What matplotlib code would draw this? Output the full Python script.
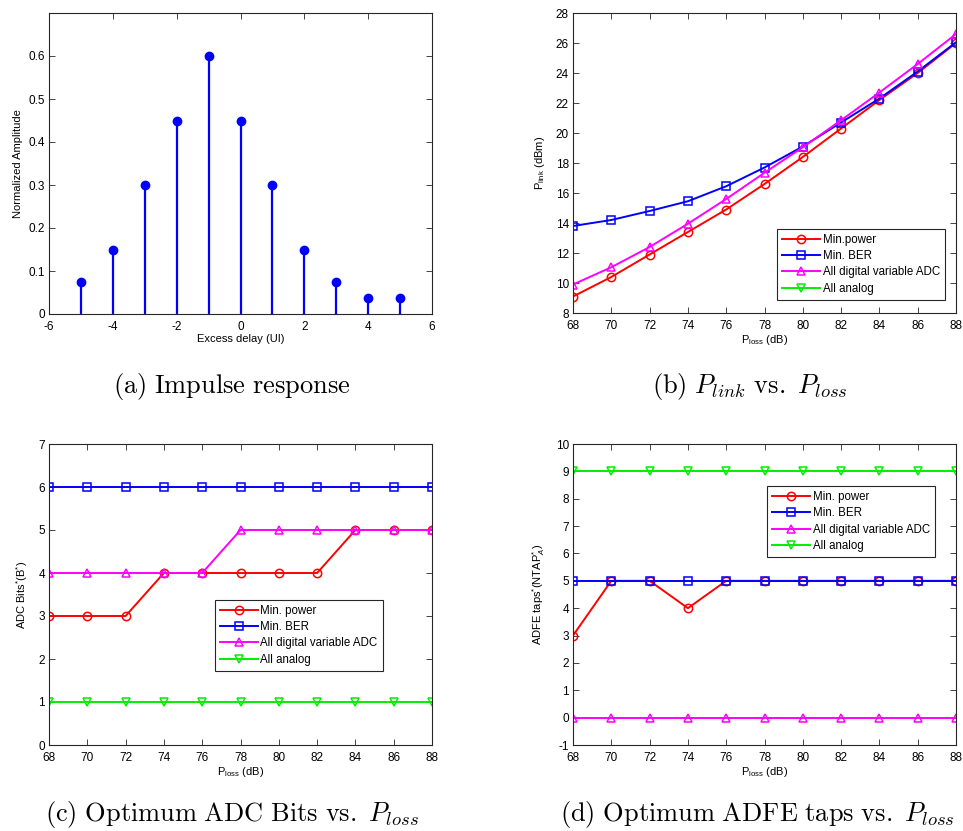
import matplotlib
matplotlib.use("Agg")
import matplotlib.pyplot as plt
import numpy as np

plt.rcParams['font.family'] = ['Liberation Sans', 'DejaVu Sans']
plt.rcParams['axes.unicode_minus'] = False
plt.rcParams['mathtext.fontset'] = 'custom'
plt.rcParams['mathtext.rm'] = 'Liberation Sans'
plt.rcParams['mathtext.it'] = 'Liberation Sans:italic'
plt.rcParams['mathtext.bf'] = 'Liberation Sans:bold'

# ---------------- data ----------------
delay = [-5, -4, -3, -2, -1, 0, 1, 2, 3, 4, 5]
amplitude = [0.075, 0.15, 0.30, 0.45, 0.60, 0.45, 0.30, 0.15, 0.075, 0.038, 0.038]

p_loss = [68, 70, 72, 74, 76, 78, 80, 82, 84, 86, 88]
series_names = ["Min.power", "Min. BER", "All digital variable ADC", "All analog"]
series_names_cd = ["Min. power", "Min. BER", "All digital variable ADC", "All analog"]

plink_min_power = [9.1, 10.4, 11.9, 13.4, 14.9, 16.6, 18.4, 20.3, 22.2, 24.0, 26.0]
plink_min_ber = [13.8, 14.2, 14.8, 15.45, 16.45, 17.7, 19.1, 20.7, 22.3, 24.1, 26.05]
plink_all_digital = [9.9, 11.05, 12.4, 13.95, 15.6, 17.35, 19.05, 20.85, 22.7, 24.6, 26.6]
plink_all_analog = []  # not shown in plot (legend only)

adc_min_power = [3, 3, 3, 4, 4, 4, 4, 4, 5, 5, 5]
adc_min_ber = [6, 6, 6, 6, 6, 6, 6, 6, 6, 6, 6]
adc_all_digital = [4, 4, 4, 4, 4, 5, 5, 5, 5, 5, 5]
adc_all_analog = [1, 1, 1, 1, 1, 1, 1, 1, 1, 1, 1]

taps_min_power = [3, 5, 5, 4, 5, 5, 5, 5, 5, 5, 5]
taps_min_ber = [5, 5, 5, 5, 5, 5, 5, 5, 5, 5, 5]
taps_all_digital = [0, 0, 0, 0, 0, 0, 0, 0, 0, 0, 0]
taps_all_analog = [9, 9, 9, 9, 9, 9, 9, 9, 9, 9, 9]

x_ticks_a = [-6, -4, -2, 0, 2, 4, 6]
y_ticks_a = [0, 0.1, 0.2, 0.3, 0.4, 0.5, 0.6]
x_ticks_loss = [68, 70, 72, 74, 76, 78, 80, 82, 84, 86, 88]
y_ticks_b = [8, 10, 12, 14, 16, 18, 20, 22, 24, 26, 28]
y_ticks_c = [0, 1, 2, 3, 4, 5, 6, 7]
y_ticks_d = [-1, 0, 1, 2, 3, 4, 5, 6, 7, 8, 9, 10]

captions = [r"$\mathrm{(a)\ Impulse\ response}$",
            r"$\mathrm{(b)}\ P_{link}\ \mathrm{vs.}\ P_{loss}$",
            r"$\mathrm{(c)\ Optimum\ ADC\ Bits\ vs.}\ P_{loss}$",
            r"$\mathrm{(d)\ Optimum\ ADFE\ taps\ vs.}\ P_{loss}$"]

# ---------------- figure ----------------
W, H = 963, 831
fig = plt.figure(figsize=(W / 100, H / 100), dpi=100)

def ax_px(l, t, r, b):
    return fig.add_axes([l / W, 1 - b / H, (r - l) / W, (b - t) / H])

axa = ax_px(49, 13, 432, 314)
axb = ax_px(573, 13, 956, 313)
axc = ax_px(49, 444, 432, 745)
axd = ax_px(573, 444, 956, 745)

FS = 8
styles = [dict(color='#ff0000', marker='o'),
          dict(color='#0000ff', marker='s'),
          dict(color='#ff00ff', marker='^'),
          dict(color='#00ee00', marker='v')]

def style_axes(ax):
    for s in ax.spines.values():
        s.set_linewidth(0.8)
        s.set_color('#262626')
    ax.tick_params(direction='in', top=True, right=True, length=4, width=0.6,
                   labelsize=FS + 0.5, colors='#262626', pad=3)
    ax.tick_params(axis='x', pad=5)
    for lab in ax.get_xticklabels() + ax.get_yticklabels():
        lab.set_color('black')

def plot_series(ax, ys, names):
    for y, name, st in zip(ys, names, styles):
        xs = p_loss[:len(y)]
        ax.plot(xs, y, color=st['color'], marker=st['marker'], lw=1.4,
                markersize=6, markerfacecolor='none', markeredgewidth=1.1,
                label=name)

# (a)
ml, sl, bl = axa.stem(delay, amplitude, basefmt=' ')
plt.setp(sl, color='#0000ff', linewidth=1.6)
plt.setp(ml, color='#0000ff', markersize=6)
axa.set_xlim(-6, 6)
axa.set_ylim(0, 0.7)
axa.set_xticks(x_ticks_a)
axa.set_yticks(y_ticks_a)
axa.set_yticklabels([("%g" % v) for v in y_ticks_a])
axa.set_xlabel("Excess delay (UI)", fontsize=FS, labelpad=1)
axa.set_ylabel("Normalized Amplitude", fontsize=FS, labelpad=4)
style_axes(axa)

# (b)
plot_series(axb, [plink_min_power, plink_min_ber, plink_all_digital, plink_all_analog], series_names)
axb.set_xlim(68, 88)
axb.set_ylim(8, 28)
axb.set_xticks(x_ticks_loss)
axb.set_yticks(y_ticks_b)
axb.set_xlabel(r"P$_{\mathrm{loss}}$ (dB)", fontsize=FS, labelpad=1)
axb.set_ylabel(r"P$_{\mathrm{link}}$ (dBm)", fontsize=FS, labelpad=6)
style_axes(axb)

# (c)
plot_series(axc, [adc_min_power, adc_min_ber, adc_all_digital, adc_all_analog], series_names_cd)
axc.set_xlim(68, 88)
axc.set_ylim(0, 7)
axc.set_xticks(x_ticks_loss)
axc.set_yticks(y_ticks_c)
axc.set_xlabel(r"P$_{\mathrm{loss}}$ (dB)", fontsize=FS, labelpad=1)
axc.set_ylabel(r"ADC Bits$^{*}$(B$^{*}$)", fontsize=FS, labelpad=6)
style_axes(axc)

# (d)
plot_series(axd, [taps_min_power, taps_min_ber, taps_all_digital, taps_all_analog], series_names_cd)
axd.set_xlim(68, 88)
axd.set_ylim(-1, 10)
axd.set_xticks(x_ticks_loss)
axd.set_yticks(y_ticks_d)
axd.set_xlabel(r"P$_{\mathrm{loss}}$ (dB)", fontsize=FS, labelpad=1)
axd.set_ylabel(r"ADFE taps$^{*}$(NTAP$_{A}^{*}$)", fontsize=FS, labelpad=6)
style_axes(axd)

def legend(ax, anchor):
    lg = ax.legend(loc='upper left', bbox_to_anchor=anchor, fontsize=FS + 0.3,
                   handlelength=3.3, handletextpad=0.2, labelspacing=0.36,
                   borderpad=0.45, borderaxespad=0, fancybox=False,
                   frameon=True, framealpha=1, edgecolor='#262626')
    lg.get_frame().set_linewidth(0.8)

legend(axb, (0.533, 0.28))
legend(axc, (0.433, 0.482))
legend(axd, (0.507, 0.860))

# captions
cap_pos = [(232, 386), (750, 386), (232, 814), (757, 814)]
for (cx, cy), txt in zip(cap_pos, captions):
    fig.text(cx / W, 1 - cy / H, txt, ha='center', va='center', fontsize=19,
             math_fontfamily='cm')

fig.savefig("out.png", dpi=100)
